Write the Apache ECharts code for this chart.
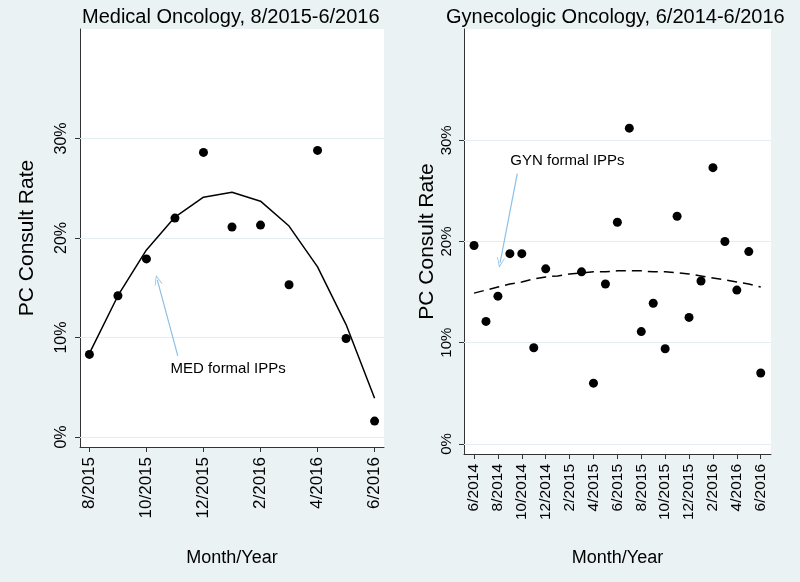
<!DOCTYPE html>
<html>
    <head>
        <meta charset="utf-8" />
        <title>PC Consult Rate, Medical and Gynecologic Oncology</title>
        <script src="https://cdn.jsdelivr.net/npm/echarts@6/dist/echarts.min.js"></script>
        <script>
            // month labels, index 0 = first month of each panel
            const medMonths = ["8/2015", "9/2015", "10/2015", "11/2015", "12/2015", "1/2016",
                "2/2016", "3/2016", "4/2016", "5/2016", "6/2016"];
            const medRate = [8.3, 14.2, 17.9, 22.0, 28.6, 21.1, 21.3, 15.3, 28.8, 9.9, 1.6];
            const medFit = [8.4, 14.2, 18.8, 22.1, 24.1, 24.6, 23.7, 21.2, 17.1, 11.3, 3.9];

            const gynMonths = ["6/2014", "7/2014", "8/2014", "9/2014", "10/2014", "11/2014",
                "12/2014", "1/2015", "2/2015", "3/2015", "4/2015", "5/2015", "6/2015",
                "7/2015", "8/2015", "9/2015", "10/2015", "11/2015", "12/2015", "1/2016",
                "2/2016", "3/2016", "4/2016", "5/2016", "6/2016"];
            const gynRate = [19.6, 12.1, 14.6, 18.8, 18.8, 9.5, 17.3, null, null, 17.0, 6.0,
                15.8, 21.9, 31.2, 11.1, 13.9, 9.4, 22.5, 12.5, 16.1, 27.3, 20.0, 15.2, 19.0, 7.0];
            const gynFit = [14.9, 15.2, 15.5, 15.8, 16.0, 16.3, 16.5, 16.6, 16.8, 16.9, 17.0,
                17.0, 17.1, 17.1, 17.1, 17.0, 17.0, 16.9, 16.8, 16.6, 16.4, 16.2, 16.0, 15.8, 15.5];

            const yTicks = [0, 10, 20, 30];
            const medTicks = [0, 2, 4, 6, 8, 10];
            const gynTicks = [0, 2, 4, 6, 8, 10, 12, 14, 16, 18, 20, 22, 24];

            // annotation: text anchor and arrow (tail, head) in data units
            const medNote = {text: "MED formal IPPs", at: [2.83, 6.85], tail: [3.1, 8.15], head: [2.38, 15.8]};
            const gynNote = {text: "GYN formal IPPs", at: [3.0, 27.95], tail: [3.62, 26.7], head: [2.18, 17.9]};

            const FONT = "Liberation Sans, Arial, sans-serif";
            const BG = "#eaf2f3";
            const CHEVRON = "path://M0,12 L5,0 L10,12 L9,12 L5,2.5 L1,12 Z";

            function toPairs(vals) {
                const out = [];
                vals.forEach(function (v, i) {
                    if (v !== null) out.push([i, v]);
                });
                return out;
            }

            function xAxisFor(idx, labels, ticks, min, max, fs, gap) {
                return {
                    type: "value",
                    gridIndex: idx,
                    min: min,
                    max: max,
                    name: "Month/Year",
                    nameLocation: "middle",
                    nameGap: gap,
                    nameTextStyle: {fontFamily: FONT, fontSize: 18, color: "#000"},
                    axisLine: {onZero: false, lineStyle: {color: "#333", width: 1}},
                    axisTick: {customValues: ticks, length: 5, lineStyle: {color: "#333"}},
                    axisLabel: {
                        customValues: ticks,
                        rotate: 90,
                        margin: 10,
                        fontFamily: FONT,
                        fontSize: fs,
                        color: "#000",
                        formatter: function (v) {
                            return labels[Math.round(v)];
                        },
                    },
                    splitLine: {show: false},
                };
            }

            function yAxisFor(idx, fs, gap) {
                return {
                    type: "value",
                    gridIndex: idx,
                    min: -1,
                    max: 41,
                    name: "PC Consult Rate",
                    nameLocation: "middle",
                    nameGap: gap,
                    nameTextStyle: {fontFamily: FONT, fontSize: 21, color: "#000"},
                    axisLine: {show: true, onZero: false, lineStyle: {color: "#333", width: 1}},
                    axisTick: {show: true, customValues: yTicks, length: 5, lineStyle: {color: "#333"}},
                    axisLabel: {
                        customValues: yTicks,
                        rotate: 90,
                        margin: 10,
                        fontFamily: FONT,
                        fontSize: fs,
                        color: "#000",
                        formatter: "{value}%",
                    },
                    splitLine: {show: false},
                };
            }

            function panelSeries(idx, rate, fit, dashed, note) {
                return [
                    {
                        type: "line",
                        xAxisIndex: idx,
                        yAxisIndex: idx,
                        data: toPairs(fit),
                        symbol: "none",
                        z: 2,
                        lineStyle: {color: "#000", width: 1.5, type: dashed ? [10, 6] : "solid"},
                        markLine: {
                            silent: true,
                            symbol: ["none", "none"],
                            label: {show: false},
                            lineStyle: {color: "#e3eef0", width: 1, type: "solid"},
                            data: yTicks.map(function (v) {
                                return {yAxis: v};
                            }),
                            z: 1,
                        },
                    },
                    {
                        type: "scatter",
                        xAxisIndex: idx,
                        yAxisIndex: idx,
                        data: toPairs(rate),
                        symbol: "circle",
                        symbolSize: 9,
                        z: 3,
                        itemStyle: {color: "#000", opacity: 1},
                        markLine: {
                            silent: true,
                            symbol: ["none", CHEVRON],
                            symbolSize: [8, 10],
                            label: {show: false},
                            lineStyle: {color: "#8cbfe6", width: 1.2, type: "solid"},
                            data: [[{coord: note.tail}, {coord: note.head}]],
                        },
                        markPoint: {
                            silent: true,
                            symbol: "circle",
                            symbolSize: 1,
                            itemStyle: {color: "rgba(0,0,0,0)"},
                            label: {
                                show: true,
                                position: "right",
                                distance: 0,
                                fontFamily: FONT,
                                fontSize: 15,
                                color: "#000",
                                formatter: note.text,
                            },
                            data: [{coord: note.at}],
                        },
                    },
                ];
            }

            function criarGrafico() {
                const chart = echarts.init(document.getElementById("grafico"));
                const option = {
                    backgroundColor: BG,
                    animation: false,
                    title: [
                        {
                            text: "Medical Oncology, 8/2015-6/2016",
                            left: 77,
                            top: 2,
                            textStyle: {fontFamily: FONT, fontSize: 20, fontWeight: "normal", color: "#000"},
                        },
                        {
                            text: "Gynecologic Oncology, 6/2014-6/2016",
                            left: 441,
                            top: 2,
                            textStyle: {fontFamily: FONT, fontSize: 20, fontWeight: "normal", color: "#000"},
                        },
                    ],
                    grid: [
                        {left: 80, right: 416, top: 29, bottom: 135, show: true, backgroundColor: "#fff", borderWidth: 0},
                        {left: 464, right: 29, top: 29, bottom: 128, show: true, backgroundColor: "#fff", borderWidth: 0},
                    ],
                    xAxis: [
                        xAxisFor(0, medMonths, medTicks, -0.33, 10.33, 17, 102),
                        xAxisFor(1, gynMonths, gynTicks, -0.84, 24.86, 15.5, 95),
                    ],
                    yAxis: [yAxisFor(0, 16, 42), yAxisFor(1, 15, 26)],
                    series: panelSeries(0, medRate, medFit, false, medNote).concat(
                        panelSeries(1, gynRate, gynFit, true, gynNote)
                    ),
                };
                chart.setOption(option);
            }

            window.onload = criarGrafico;
        </script>
    </head>
    <body style="margin: 0">
        <div id="grafico" style="width: 800px; height: 582px"></div>
    </body>
</html>
